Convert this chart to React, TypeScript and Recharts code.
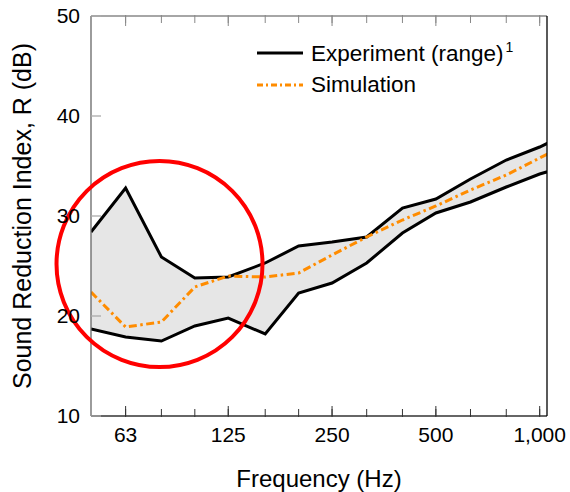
import React from "react";
import {
  ComposedChart,
  Area,
  Line,
  XAxis,
  YAxis,
  ReferenceDot,
  Legend,
} from "recharts";

// third-octave band centre frequencies (Hz)
const freqs = [50, 63, 80, 100, 125, 160, 200, 250, 315, 400, 500, 630, 800, 1000, 1250];
// experiment range, upper and lower bound (dB)
const expUpper = [28.4, 32.8, 25.9, 23.8, 23.9, 25.3, 27.0, 27.4, 27.9, 30.8, 31.7, 33.7, 35.6, 36.9, 38.5];
const expLower = [18.7, 17.9, 17.5, 19.0, 19.8, 18.2, 22.3, 23.3, 25.3, 28.3, 30.3, 31.4, 32.9, 34.2, 35.2];
// simulation (dB)
const simulation = [22.4, 18.9, 19.4, 22.9, 24.0, 23.9, 24.3, 26.1, 27.9, 29.6, 31.0, 32.6, 34.1, 35.8, 37.5];

const majorTicks = [63, 125, 250, 500, 1000];
const minorTicks = [63, 80, 100, 125, 160, 200, 250, 315, 400, 500, 630, 800, 1000];
const yTicks = [10, 20, 30, 40, 50];

const data = freqs.map((f, i) => ({
  f,
  upper: expUpper[i],
  lower: expLower[i],
  sim: simulation[i],
}));

const FONT = "'Liberation Sans', Arial, sans-serif";
const ORANGE = "#ff8c00";

const fmtFreq = (v: number) => v.toLocaleString("en-US");

function LegendBox() {
  return (
    <div style={{ fontFamily: FONT, fontSize: 22.5, color: "#000" }}>
      <div style={{ display: "flex", alignItems: "center", height: 32 }}>
        <svg width={46} height={10} style={{ marginRight: 8 }}>
          <line x1={0} y1={5} x2={46} y2={5} stroke="#000" strokeWidth={3} />
        </svg>
        <span>
          Experiment (range)
          <sup style={{ fontSize: 14, marginLeft: 2 }}>1</sup>
        </span>
      </div>
      <div style={{ display: "flex", alignItems: "center", height: 32 }}>
        <svg width={46} height={10} style={{ marginRight: 8 }}>
          <line x1={0} y1={5} x2={46} y2={5} stroke={ORANGE} strokeWidth={3} strokeDasharray="6 3 2 3" />
        </svg>
        <span>Simulation</span>
      </div>
    </div>
  );
}

export default function App() {
  return (
    <div style={{ width: 570, height: 492, background: "#fff" }}>
      <style>{`html, body { margin: 0; padding: 0; overflow: hidden; }`}</style>
      <ComposedChart
        width={570}
        height={492}
        data={data}
        margin={{ top: 14, right: 22, bottom: 74, left: 90 }}
      >
        <XAxis
          dataKey="f"
          type="number"
          scale="log"
          domain={[50, 1050]}
          allowDataOverflow
          ticks={majorTicks}
          tickFormatter={fmtFreq}
          height={1}
          tickSize={-10}
          tickMargin={21}
          axisLine={{ stroke: "#333", strokeWidth: 1.3 }}
          tickLine={{ stroke: "#333", strokeWidth: 1 }}
          tick={{ fontSize: 21, fill: "#000", fontFamily: FONT }}
          label={{
            content: (p: any) => (
              <text
                x={p.viewBox.x + p.viewBox.width / 2}
                y={487}
                textAnchor="middle"
                fontSize={24}
                fontFamily={FONT}
                fill="#000"
              >
                Frequency (Hz)
              </text>
            ),
          }}
        />
        <XAxis
          xAxisId="minor"
          dataKey="f"
          type="number"
          scale="log"
          domain={[50, 1050]}
          allowDataOverflow
          ticks={minorTicks}
          tickFormatter={() => ""}
          height={1}
          tickSize={-8}
          axisLine={false}
          tickLine={{ stroke: "#333", strokeWidth: 1 }}
        />
        <XAxis
          xAxisId="top"
          orientation="top"
          dataKey="f"
          type="number"
          scale="log"
          domain={[50, 1050]}
          allowDataOverflow
          ticks={majorTicks}
          tickFormatter={() => ""}
          height={1}
          tickSize={-10}
          axisLine={{ stroke: "#888", strokeWidth: 1.3 }}
          tickLine={{ stroke: "#888", strokeWidth: 1 }}
        />
        <XAxis
          xAxisId="topMinor"
          orientation="top"
          dataKey="f"
          type="number"
          scale="log"
          domain={[50, 1050]}
          allowDataOverflow
          ticks={minorTicks}
          tickFormatter={() => ""}
          height={1}
          tickSize={-8}
          axisLine={false}
          tickLine={{ stroke: "#888", strokeWidth: 1 }}
        />
        <YAxis
          type="number"
          domain={[10, 50]}
          ticks={yTicks}
          width={1}
          tickSize={-10}
          tickMargin={21}
          axisLine={{ stroke: "#666", strokeWidth: 1.3 }}
          tickLine={{ stroke: "#aaa", strokeWidth: 1.3 }}
          tick={{ fontSize: 21, fill: "#000", fontFamily: FONT }}
          label={{
            content: (p: any) => {
              const cy = p.viewBox.y + p.viewBox.height / 2;
              return (
                <text
                  x={31}
                  y={cy}
                  transform={`rotate(-90 31 ${cy})`}
                  textAnchor="middle"
                  fontSize={25}
                  fontFamily={FONT}
                  fill="#000"
                >
                  Sound Reduction Index, R (dB)
                </text>
              );
            },
          }}
        />
        <YAxis
          yAxisId="right"
          orientation="right"
          type="number"
          domain={[10, 50]}
          ticks={yTicks}
          width={1}
          tickSize={-10}
          tick={false}
          axisLine={{ stroke: "#000", strokeWidth: 1.3 }}
          tickLine={{ stroke: "#aaa", strokeWidth: 1.3 }}
        />
        <Legend
          layout="vertical"
          align="center"
          verticalAlign="middle"
          content={() => <LegendBox />}
          wrapperStyle={{ position: "absolute", top: 37, left: 257, width: 300, height: 64 }}
        />
        <Area
          type="linear"
          dataKey={(d: any) => [d.lower, d.upper]}
          fill="#e6e6e6"
          fillOpacity={1}
          stroke="none"
          isAnimationActive={false}
          legendType="none"
        />
        <Line
          type="linear"
          dataKey="upper"
          stroke="#000"
          strokeWidth={3}
          dot={false}
          isAnimationActive={false}
        />
        <Line
          type="linear"
          dataKey="lower"
          stroke="#000"
          strokeWidth={3}
          dot={false}
          isAnimationActive={false}
        />
        <Line
          type="linear"
          dataKey="sim"
          stroke={ORANGE}
          strokeWidth={3}
          strokeDasharray="8 3.5 2.5 3.5"
          dot={false}
          isAnimationActive={false}
        />
        <ReferenceDot
          x={79}
          y={25.2}
          r={103}
          fill="none"
          stroke="#ff0000"
          strokeWidth={4}
          ifOverflow="visible"
        />
      </ComposedChart>
    </div>
  );
}
